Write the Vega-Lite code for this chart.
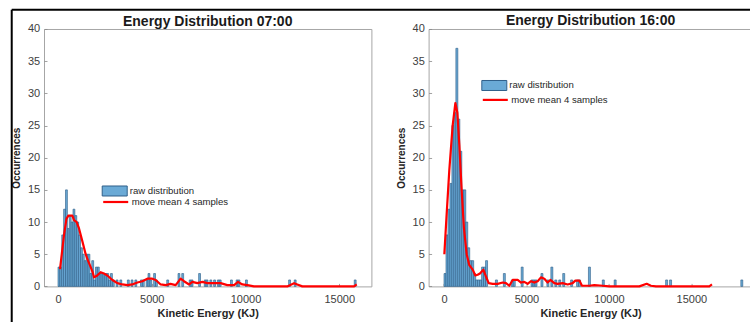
{
  "$schema": "https://vega.github.io/schema/vega-lite/v6.json",
  "autosize": {"type": "pad"},
  "padding": {"left": 10, "top": 8, "right": 0, "bottom": 0},
  "background": "white",
  "bounds": "flush",
  "spacing": 56.6,
  "config": {
    "font": "Liberation Sans",
    "view": {"stroke": "#a6a6a6", "strokeWidth": 1},
    "axis": {
      "grid": false, "domain": false, "ticks": true, "tickSize": -3, "tickColor": "#8a8a8a", "tickWidth": 0.8,
      "labelFont": "Liberation Sans", "labelFontSize": 11, "labelColor": "#404040",
      "titleFont": "Liberation Sans", "titleFontWeight": "bold", "titleColor": "#262626",
      "labelFlush": false, "labelOverlap": false
    },
    "axisX": {"labelPadding": 9.8, "titleFontSize": 11, "titlePadding": 3, "labelAngle": 0},
    "axisY": {"labelPadding": 7.3, "titleFontSize": 10, "titlePadding": 5.5},
    "title": {"font": "Liberation Sans", "fontSize": 14, "fontWeight": "bold", "color": "#1a1a1a", "anchor": "middle", "baseline": "bottom", "frame": "group"},
    "legend": {"orient": "none", "padding": 0, "labelFont": "Liberation Sans", "labelFontSize": 9.6, "labelColor": "#262626", "symbolSize": 625, "labelOffset": 2, "rowPadding": 0}
  },
  "resolve": {
    "scale": {"fill": "independent", "stroke": "independent"},
    "legend": {"fill": "independent", "stroke": "independent"}
  },
  "datasets": {
    "h07": [
      {"start": 0, "end": 100, "count": 3}, {"start": 100, "end": 200, "count": 3}, {"start": 200, "end": 300, "count": 8},
      {"start": 300, "end": 400, "count": 12}, {"start": 400, "end": 500, "count": 15}, {"start": 500, "end": 600, "count": 9},
      {"start": 600, "end": 700, "count": 11}, {"start": 700, "end": 800, "count": 10}, {"start": 800, "end": 900, "count": 12},
      {"start": 900, "end": 1000, "count": 11}, {"start": 1000, "end": 1100, "count": 10}, {"start": 1100, "end": 1200, "count": 8},
      {"start": 1200, "end": 1300, "count": 6}, {"start": 1300, "end": 1400, "count": 5}, {"start": 1400, "end": 1500, "count": 4},
      {"start": 1500, "end": 1600, "count": 5}, {"start": 1600, "end": 1700, "count": 5}, {"start": 1700, "end": 1800, "count": 2},
      {"start": 1800, "end": 1900, "count": 4}, {"start": 1900, "end": 2000, "count": 1}, {"start": 2000, "end": 2100, "count": 3},
      {"start": 2100, "end": 2200, "count": 3}, {"start": 2200, "end": 2300, "count": 2}, {"start": 2300, "end": 2400, "count": 2},
      {"start": 2400, "end": 2500, "count": 2}, {"start": 2500, "end": 2600, "count": 2}, {"start": 2600, "end": 2700, "count": 2},
      {"start": 2700, "end": 2800, "count": 1}, {"start": 2800, "end": 2900, "count": 2}, {"start": 2900, "end": 3000, "count": 1},
      {"start": 3100, "end": 3200, "count": 1}, {"start": 3300, "end": 3400, "count": 1}, {"start": 3700, "end": 3800, "count": 1},
      {"start": 3900, "end": 4000, "count": 1}, {"start": 4100, "end": 4200, "count": 1}, {"start": 4400, "end": 4500, "count": 1},
      {"start": 4500, "end": 4600, "count": 1}, {"start": 4700, "end": 4800, "count": 1}, {"start": 4800, "end": 4900, "count": 2},
      {"start": 4900, "end": 5000, "count": 1}, {"start": 5100, "end": 5200, "count": 2}, {"start": 5200, "end": 5300, "count": 1},
      {"start": 5800, "end": 5900, "count": 1}, {"start": 6400, "end": 6500, "count": 2}, {"start": 6600, "end": 6700, "count": 2},
      {"start": 7000, "end": 7100, "count": 1}, {"start": 7100, "end": 7200, "count": 1}, {"start": 7500, "end": 7600, "count": 2},
      {"start": 7800, "end": 7900, "count": 1}, {"start": 7900, "end": 8000, "count": 1}, {"start": 8100, "end": 8200, "count": 1},
      {"start": 8300, "end": 8400, "count": 1}, {"start": 8500, "end": 8600, "count": 1}, {"start": 8600, "end": 8700, "count": 1},
      {"start": 9200, "end": 9300, "count": 1}, {"start": 9500, "end": 9600, "count": 1}, {"start": 9600, "end": 9700, "count": 1},
      {"start": 10000, "end": 10100, "count": 1}, {"start": 12300, "end": 12400, "count": 1}, {"start": 12600, "end": 12700, "count": 1},
      {"start": 15800, "end": 15900, "count": 1}
    ],
    "m07": [
      {"e": 107, "mean": 2.7}, {"e": 320, "mean": 8}, {"e": 450, "mean": 10.5}, {"e": 550, "mean": 11}, {"e": 765, "mean": 11},
      {"e": 853, "mean": 10.3}, {"e": 995, "mean": 10}, {"e": 1120, "mean": 9}, {"e": 1300, "mean": 7}, {"e": 1475, "mean": 5},
      {"e": 1600, "mean": 4}, {"e": 1742, "mean": 3}, {"e": 1850, "mean": 2.2}, {"e": 1920, "mean": 1.4}, {"e": 2050, "mean": 1.6},
      {"e": 2275, "mean": 2.2}, {"e": 2450, "mean": 2}, {"e": 2630, "mean": 1.7}, {"e": 2900, "mean": 1}, {"e": 3165, "mean": 0.5},
      {"e": 3430, "mean": 0.3}, {"e": 3700, "mean": 0.2}, {"e": 3960, "mean": 0.3}, {"e": 4230, "mean": 0.6}, {"e": 4500, "mean": 0.8},
      {"e": 4765, "mean": 1.2}, {"e": 5030, "mean": 1.2}, {"e": 5210, "mean": 1}, {"e": 5475, "mean": 0.3}, {"e": 5740, "mean": 0.2},
      {"e": 6000, "mean": 0.4}, {"e": 6275, "mean": 0.2}, {"e": 6540, "mean": 1.2}, {"e": 6720, "mean": 0.8}, {"e": 6990, "mean": 0.3},
      {"e": 7165, "mean": 0.7}, {"e": 7430, "mean": 0.5}, {"e": 7700, "mean": 0.7}, {"e": 7965, "mean": 0.5}, {"e": 8320, "mean": 0.5},
      {"e": 8675, "mean": 0.5}, {"e": 9030, "mean": 0.2}, {"e": 9390, "mean": 0.2}, {"e": 9600, "mean": 0.7}, {"e": 9830, "mean": 0.3},
      {"e": 10100, "mean": 0.2}, {"e": 10450, "mean": 0}, {"e": 12230, "mean": 0}, {"e": 12590, "mean": 0.5}, {"e": 12760, "mean": 0.3},
      {"e": 13030, "mean": 0}, {"e": 15790, "mean": 0}, {"e": 15930, "mean": 0.3}
    ],
    "h16": [
      {"start": 0, "end": 120, "count": 2}, {"start": 120, "end": 240, "count": 8}, {"start": 240, "end": 360, "count": 12},
      {"start": 360, "end": 480, "count": 16}, {"start": 480, "end": 600, "count": 25}, {"start": 600, "end": 720, "count": 27},
      {"start": 720, "end": 840, "count": 37}, {"start": 840, "end": 960, "count": 26}, {"start": 960, "end": 1080, "count": 21},
      {"start": 1080, "end": 1200, "count": 15}, {"start": 1200, "end": 1320, "count": 15}, {"start": 1320, "end": 1440, "count": 10},
      {"start": 1440, "end": 1560, "count": 6}, {"start": 1560, "end": 1680, "count": 4}, {"start": 1680, "end": 1800, "count": 4},
      {"start": 1800, "end": 1920, "count": 2}, {"start": 1920, "end": 2040, "count": 1}, {"start": 2040, "end": 2160, "count": 1},
      {"start": 2160, "end": 2280, "count": 1}, {"start": 2280, "end": 2400, "count": 3}, {"start": 2400, "end": 2520, "count": 3},
      {"start": 2520, "end": 2640, "count": 4}, {"start": 3120, "end": 3240, "count": 1}, {"start": 3600, "end": 3720, "count": 2},
      {"start": 4080, "end": 4200, "count": 1}, {"start": 4200, "end": 4320, "count": 1}, {"start": 4680, "end": 4800, "count": 3},
      {"start": 5280, "end": 5400, "count": 1}, {"start": 5400, "end": 5520, "count": 1}, {"start": 5520, "end": 5640, "count": 1},
      {"start": 5880, "end": 6000, "count": 2}, {"start": 6240, "end": 6360, "count": 1}, {"start": 6480, "end": 6600, "count": 3},
      {"start": 6720, "end": 6840, "count": 1}, {"start": 6960, "end": 7080, "count": 1}, {"start": 7200, "end": 7320, "count": 2},
      {"start": 7680, "end": 7800, "count": 1}, {"start": 8040, "end": 8160, "count": 1}, {"start": 8160, "end": 8280, "count": 1},
      {"start": 8760, "end": 8880, "count": 3}, {"start": 9600, "end": 9720, "count": 1}, {"start": 10320, "end": 10440, "count": 1},
      {"start": 13440, "end": 13560, "count": 1}, {"start": 13680, "end": 13800, "count": 1}, {"start": 18000, "end": 18120, "count": 1}
    ],
    "m16": [
      {"e": 20, "mean": 5}, {"e": 160, "mean": 11.2}, {"e": 320, "mean": 18}, {"e": 525, "mean": 25}, {"e": 690, "mean": 28.5},
      {"e": 810, "mean": 27}, {"e": 930, "mean": 22}, {"e": 1070, "mean": 15}, {"e": 1210, "mean": 9}, {"e": 1375, "mean": 5},
      {"e": 1535, "mean": 3.3}, {"e": 1740, "mean": 2.6}, {"e": 1900, "mean": 1.7}, {"e": 2040, "mean": 1.8}, {"e": 2180, "mean": 2},
      {"e": 2385, "mean": 2.6}, {"e": 2550, "mean": 1.5}, {"e": 2710, "mean": 0.5}, {"e": 2950, "mean": 0.4}, {"e": 3255, "mean": 0.4},
      {"e": 3560, "mean": 0.6}, {"e": 3760, "mean": 0.5}, {"e": 3960, "mean": 0.1}, {"e": 4165, "mean": 1}, {"e": 4470, "mean": 1},
      {"e": 4670, "mean": 0.6}, {"e": 4870, "mean": 0.7}, {"e": 5070, "mean": 0.4}, {"e": 5275, "mean": 0.8}, {"e": 5480, "mean": 0.6},
      {"e": 5680, "mean": 0.8}, {"e": 5880, "mean": 1.4}, {"e": 6085, "mean": 1.2}, {"e": 6285, "mean": 0.6}, {"e": 6450, "mean": 1},
      {"e": 6690, "mean": 0.5}, {"e": 6890, "mean": 0.4}, {"e": 7195, "mean": 0.5}, {"e": 7500, "mean": 0.3}, {"e": 7800, "mean": 0.5},
      {"e": 7965, "mean": 0.9}, {"e": 8210, "mean": 0.9}, {"e": 8370, "mean": 0.1}, {"e": 8815, "mean": 0.1}, {"e": 9115, "mean": 0.2},
      {"e": 9620, "mean": 0.1}, {"e": 10025, "mean": 0}, {"e": 11845, "mean": 0}, {"e": 12290, "mean": 0.4}, {"e": 12550, "mean": 0.1},
      {"e": 12855, "mean": 0}, {"e": 16090, "mean": 0}, {"e": 16250, "mean": 0.3}
    ]
  },
  "hconcat": [
    {
      "width": 327.4,
      "height": 257.4,
      "title": {"text": "Energy Distribution 07:00", "offset": -19.9},
      "layer": [
        {
          "data": {"name": "h07"},
          "mark": {"type": "bar", "stroke": "#2a5a85", "strokeWidth": 0.6},
          "encoding": {
            "x": {"field": "start", "type": "quantitative", "scale": {"domain": [-747, 16715], "nice": false, "zero": false},
                  "axis": {"values": [0, 5000, 10000, 15000], "format": "d", "title": "Kinetic Energy (KJ)"}},
            "x2": {"field": "end"},
            "y": {"field": "count", "type": "quantitative", "scale": {"domain": [0, 40], "nice": false, "zero": false},
                  "axis": {"values": [0, 5, 10, 15, 20, 25, 30, 35, 40], "title": "Occurrences"}},
            "y2": {"datum": 0},
            "fill": {"datum": "raw distribution", "type": "nominal", "scale": {"range": ["#6aaad6"]},
                     "legend": {"title": null, "legendX": 57.7, "legendY": 149, "symbolType": "M-1,-0.4L1,-0.4L1,0.4L-1,0.4Z", "symbolStrokeColor": "#2f5f8a", "symbolStrokeWidth": 1}}
          }
        },
        {
          "data": {"name": "m07"},
          "mark": {"type": "line", "strokeWidth": 2.2, "strokeJoin": "round"},
          "encoding": {
            "x": {"field": "e", "type": "quantitative", "scale": {"domain": [-747, 16715], "nice": false, "zero": false},
                  "axis": {"values": [0, 5000, 10000, 15000], "format": "d", "title": "Kinetic Energy (KJ)"}},
            "y": {"field": "mean", "type": "quantitative", "scale": {"domain": [0, 40], "nice": false, "zero": false},
                  "axis": {"values": [0, 5, 10, 15, 20, 25, 30, 35, 40], "title": "Occurrences"}},
            "stroke": {"datum": "move mean 4 samples", "type": "nominal", "scale": {"range": ["#ff0000"]},
                       "legend": {"title": null, "legendX": 57.7, "legendY": 159, "symbolType": "stroke", "symbolStrokeWidth": 2.2}}
          }
        },
        {
          "data": {"values": [{}]},
          "mark": {"type": "rule", "color": "black", "strokeWidth": 2, "strokeCap": "butt"},
          "encoding": {
            "x": {"datum": -2469, "type": "quantitative", "scale": {"domain": [-747, 16715], "nice": false, "zero": false},
                  "axis": {"values": [0, 5000, 10000, 15000], "format": "d", "title": "Kinetic Energy (KJ)"}},
            "y": {"datum": 43, "type": "quantitative", "scale": {"domain": [0, 40], "nice": false, "zero": false},
                  "axis": {"values": [0, 5, 10, 15, 20, 25, 30, 35, 40], "title": "Occurrences"}},
            "y2": {"datum": -7}
          }
        },
        {
          "data": {"values": [{}]},
          "mark": {"type": "rule", "color": "black", "strokeWidth": 2, "strokeCap": "butt"},
          "encoding": {
            "x": {"datum": -2469, "type": "quantitative", "scale": {"domain": [-747, 16715], "nice": false, "zero": false},
                  "axis": {"values": [0, 5000, 10000, 15000], "format": "d", "title": "Kinetic Energy (KJ)"}},
            "x2": {"datum": 40000},
            "y": {"datum": 43, "type": "quantitative", "scale": {"domain": [0, 40], "nice": false, "zero": false},
                  "axis": {"values": [0, 5, 10, 15, 20, 25, 30, 35, 40], "title": "Occurrences"}}
          }
        }
      ]
    },
    {
      "width": 324,
      "height": 257.4,
      "title": {"text": "Energy Distribution 16:00", "offset": -4.6},
      "layer": [
        {
          "data": {"name": "h16"},
          "mark": {"type": "bar", "stroke": "#2a5a85", "strokeWidth": 0.6},
          "encoding": {
            "x": {"field": "start", "type": "quantitative", "scale": {"domain": [-934, 18714], "nice": false, "zero": false},
                  "axis": {"values": [0, 5000, 10000, 15000], "format": "d", "title": "Kinetic Energy (KJ)"}},
            "x2": {"field": "end"},
            "y": {"field": "count", "type": "quantitative", "scale": {"domain": [0, 40], "nice": false, "zero": false},
                  "axis": {"values": [0, 5, 10, 15, 20, 25, 30, 35, 40], "title": "Occurrences"}},
            "y2": {"datum": 0},
            "fill": {"datum": "raw distribution", "type": "nominal", "scale": {"range": ["#6aaad6"]},
                     "legend": {"title": null, "legendX": 52.7, "legendY": 43.5, "symbolType": "M-1,-0.4L1,-0.4L1,0.4L-1,0.4Z", "symbolStrokeColor": "#2f5f8a", "symbolStrokeWidth": 1}}
          }
        },
        {
          "data": {"name": "m16"},
          "mark": {"type": "line", "strokeWidth": 2.2, "strokeJoin": "round"},
          "encoding": {
            "x": {"field": "e", "type": "quantitative", "scale": {"domain": [-934, 18714], "nice": false, "zero": false},
                  "axis": {"values": [0, 5000, 10000, 15000], "format": "d", "title": "Kinetic Energy (KJ)"}},
            "y": {"field": "mean", "type": "quantitative", "scale": {"domain": [0, 40], "nice": false, "zero": false},
                  "axis": {"values": [0, 5, 10, 15, 20, 25, 30, 35, 40], "title": "Occurrences"}},
            "stroke": {"datum": "move mean 4 samples", "type": "nominal", "scale": {"range": ["#ff0000"]},
                       "legend": {"title": null, "legendX": 52.7, "legendY": 56.9, "symbolType": "stroke", "symbolStrokeWidth": 2.2}}
          }
        }
      ]
    }
  ]
}
